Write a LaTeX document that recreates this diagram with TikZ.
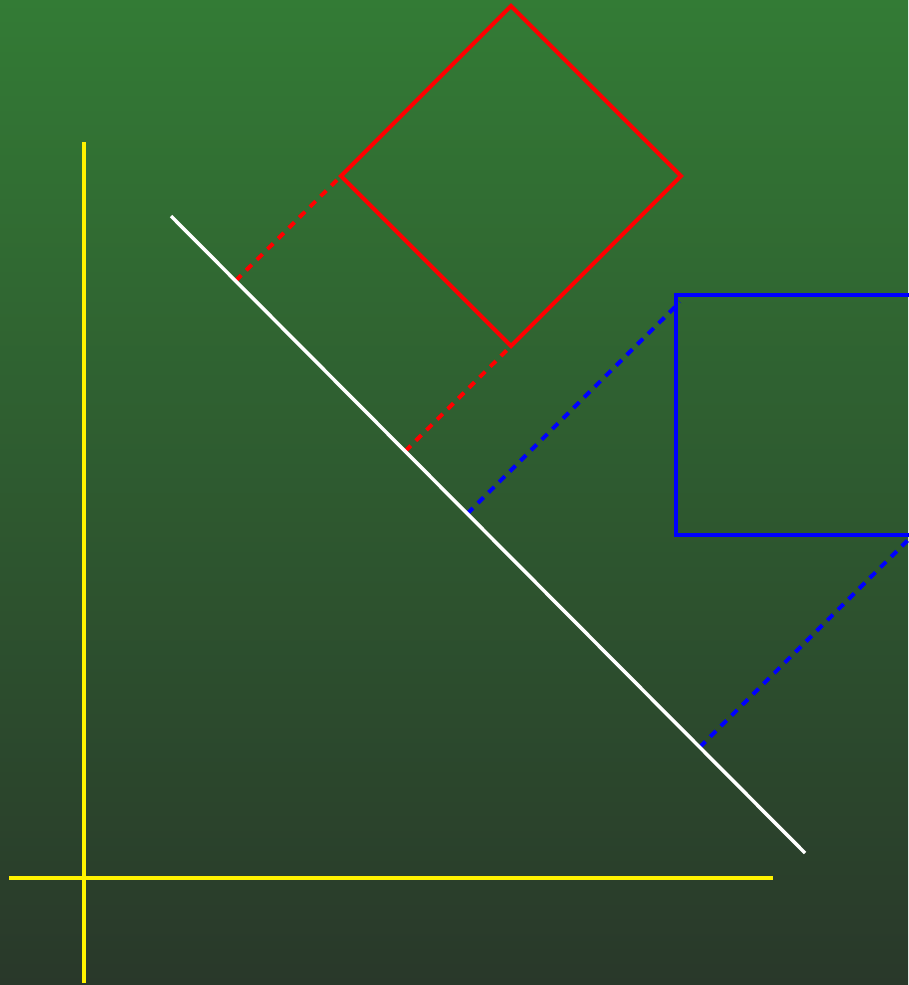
\documentclass[tikz,border=0pt]{standalone}
\usetikzlibrary{calc}
\begin{document}
\begin{tikzpicture}[x=1pt,y=-1pt,
  axisline/.style={draw=yellow,line width=4pt},
  mirror/.style={draw=white,line width=3.5pt},
  shapeline/.style={line width=4pt},
  redproj/.style={draw=red,line width=4pt,dash pattern=on 8pt off 7pt},
  blueproj/.style={draw=blue,line width=4pt,dash pattern=on 8pt off 7pt}]
\shade[top color={rgb,255:red,51;green,123;blue,53},bottom color={rgb,255:red,41;green,56;blue,42}] (0,0) rectangle (908,985);
\useasboundingbox (0,0) rectangle (908,985);
% axes
\coordinate (ytop) at (84,142);
\coordinate (ybot) at (84,983);
\coordinate (xl) at (9,878);
\coordinate (xr) at (773,878);
\draw[axisline] (ytop) -- (ybot);
\draw[axisline] (xl) -- (xr);
% mirror line
\coordinate (w1) at (171,216);
\coordinate (w2) at (805,853);
% red diamond
\coordinate (rt) at (511,6);
\coordinate (rr) at (681,176);
\coordinate (rb) at (511,346);
\coordinate (rl) at (341,176);
% blue square
\coordinate (bs1) at (680,302);
\coordinate (bs2) at (910,538);
% projections
\draw[redproj] ($(w1)!(rl)!(w2)$) -- (rl);
\draw[redproj] ($(w1)!(rb)!(w2)$) -- (rb);
\draw[blueproj] ($(w1)!(bs1)!(w2)$) -- (bs1);
\draw[blueproj] ($(w1)!(bs2)!(w2)$) -- (bs2);
\draw[mirror] (w1) -- (w2);
\draw[shapeline,draw=red] (rt) -- (rr) -- (rb) -- (rl) -- cycle;
\draw[shapeline,draw=blue] (676,295) rectangle (916,535);
\end{tikzpicture}
\end{document}
